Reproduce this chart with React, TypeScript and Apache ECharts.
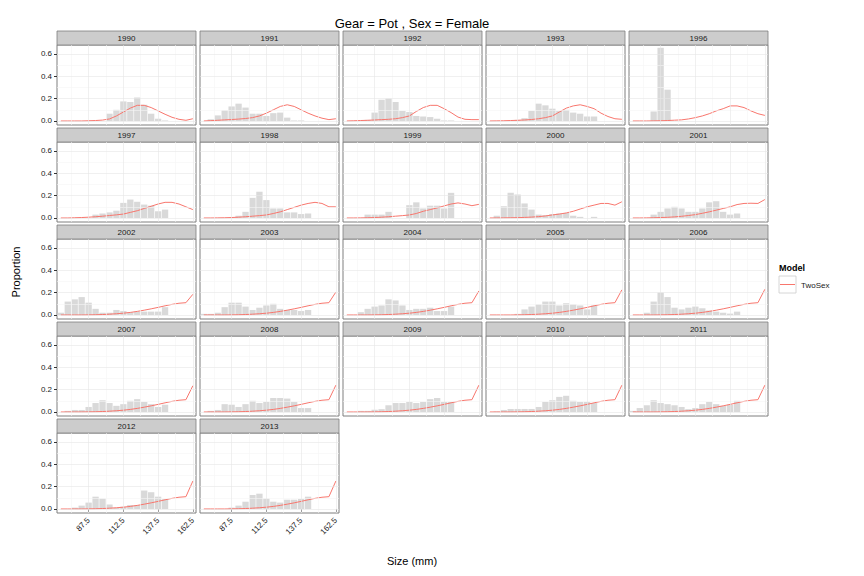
import React, { useEffect, useRef } from "react";
import * as echarts from "echarts";

const sizes = [67.5, 72.5, 77.5, 82.5, 87.5, 92.5, 97.5, 102.5, 107.5, 112.5, 117.5, 122.5, 127.5, 132.5, 137.5, 142.5, 147.5, 152.5, 157.5, 162.5];
const years = ["1990", "1991", "1992", "1993", "1996", "1997", "1998", "1999", "2000", "2001", "2002", "2003", "2004", "2005", "2006", "2007", "2008", "2009", "2010", "2011", "2012", "2013"];
const xTicks = [87.5, 112.5, 137.5, 162.5];
const xMinor = [75, 100, 125, 150];
const yTicks = [0, 0.2, 0.4, 0.6];
const yMinor = [0.1, 0.3, 0.5];

// observed proportions
const b1990 = [0, 0, 0, 0, 0, 0, 0, 0.065, 0.1, 0.175, 0.17, 0.21, 0.145, 0.065, 0.02, 0.005, 0, 0, 0, 0];
const b1991 = [0, 0.015, 0.05, 0.095, 0.13, 0.155, 0.12, 0.065, 0.065, 0.045, 0.07, 0.075, 0.03, 0.005, 0.005, 0, 0, 0, 0, 0];
const b1992 = [0, 0, 0, 0.01, 0.075, 0.19, 0.2, 0.17, 0.09, 0.08, 0.045, 0.04, 0.035, 0.02, 0.005, 0.005, 0, 0, 0, 0];
const b1993 = [0, 0, 0, 0, 0.01, 0.025, 0.09, 0.155, 0.14, 0.11, 0.09, 0.1, 0.075, 0.065, 0.04, 0.04, 0, 0, 0, 0];
const b1996 = [0, 0, 0, 0.085, 0.655, 0.28, 0, 0, 0, 0, 0, 0, 0, 0, 0, 0, 0, 0, 0, 0];
const b1997 = [0, 0, 0, 0, 0, 0.03, 0.04, 0.05, 0.065, 0.135, 0.165, 0.145, 0.12, 0.11, 0.06, 0.075, 0, 0, 0, 0];
const b1998 = [0, 0, 0, 0, 0, 0.02, 0.055, 0.18, 0.235, 0.16, 0.085, 0.085, 0.05, 0.05, 0.035, 0.04, 0, 0, 0, 0];
const b1999 = [0, 0, 0, 0.03, 0.03, 0.03, 0.055, 0, 0, 0.115, 0.14, 0.085, 0.11, 0.11, 0.085, 0.225, 0, 0, 0, 0];
const b2000 = [0, 0.02, 0.105, 0.225, 0.21, 0.13, 0.075, 0.03, 0.025, 0.035, 0.04, 0.045, 0.02, 0.01, 0, 0.01, 0, 0, 0, 0];
const b2001 = [0, 0, 0, 0.03, 0.055, 0.085, 0.1, 0.085, 0.055, 0.055, 0.085, 0.14, 0.15, 0.055, 0.03, 0.04, 0, 0, 0, 0];
const b2002 = [0.02, 0.12, 0.14, 0.16, 0.11, 0.055, 0.02, 0.02, 0.045, 0.035, 0.025, 0.03, 0.03, 0.03, 0.03, 0.07, 0, 0, 0, 0];
const b2003 = [0.01, 0.01, 0.02, 0.07, 0.11, 0.11, 0.075, 0.045, 0.065, 0.085, 0.1, 0.055, 0.045, 0.045, 0.035, 0.045, 0, 0, 0, 0];
const b2004 = [0, 0, 0.025, 0.055, 0.075, 0.085, 0.14, 0.13, 0.085, 0.045, 0.055, 0.055, 0.065, 0.035, 0.035, 0.075, 0, 0, 0, 0];
const b2005 = [0, 0, 0, 0, 0.01, 0.05, 0.075, 0.095, 0.12, 0.12, 0.085, 0.105, 0.095, 0.085, 0.05, 0.085, 0, 0, 0, 0];
const b2006 = [0, 0, 0.02, 0.12, 0.2, 0.16, 0.065, 0.05, 0.065, 0.075, 0.06, 0.04, 0.03, 0.02, 0.012, 0.03, 0, 0, 0, 0];
const b2007 = [0, 0.01, 0.018, 0.018, 0.045, 0.08, 0.105, 0.08, 0.055, 0.07, 0.1, 0.115, 0.09, 0.07, 0.045, 0.065, 0, 0, 0, 0];
const b2008 = [0, 0.01, 0.018, 0.07, 0.065, 0.045, 0.07, 0.1, 0.08, 0.09, 0.125, 0.125, 0.12, 0.09, 0.035, 0.035, 0, 0, 0, 0];
const b2009 = [0, 0, 0.01, 0.01, 0.02, 0.025, 0.06, 0.08, 0.08, 0.09, 0.08, 0.09, 0.115, 0.125, 0.09, 0.09, 0, 0, 0, 0];
const b2010 = [0, 0.005, 0.018, 0.027, 0.027, 0.027, 0.027, 0.045, 0.09, 0.105, 0.135, 0.145, 0.1, 0.09, 0.09, 0.08, 0, 0, 0, 0];
const b2011 = [0.01, 0.035, 0.06, 0.105, 0.08, 0.07, 0.06, 0.045, 0.025, 0.035, 0.07, 0.09, 0.07, 0.055, 0.065, 0.1, 0, 0, 0, 0];
const b2012 = [0, 0, 0.012, 0.03, 0.057, 0.11, 0.093, 0.04, 0.01, 0.02, 0.035, 0.035, 0.165, 0.15, 0.11, 0.088, 0, 0, 0, 0];
const b2013 = [0, 0, 0, 0, 0.012, 0.03, 0.065, 0.125, 0.137, 0.093, 0.065, 0.057, 0.083, 0.083, 0.09, 0.11, 0, 0, 0, 0];

// model (TwoSex) expected proportions
const m1990 = [0, 0, 0, 0, 0.002, 0.004, 0.008, 0.018, 0.045, 0.08, 0.115, 0.14, 0.14, 0.12, 0.09, 0.06, 0.033, 0.015, 0.006, 0.02];
const m1991 = [0, 0.003, 0.006, 0.01, 0.013, 0.017, 0.022, 0.03, 0.045, 0.07, 0.1, 0.13, 0.145, 0.13, 0.1, 0.07, 0.045, 0.025, 0.012, 0.02];
const m1992 = [0, 0.002, 0.004, 0.006, 0.009, 0.012, 0.015, 0.02, 0.03, 0.045, 0.085, 0.12, 0.14, 0.14, 0.11, 0.075, 0.035, 0.015, 0.012, 0.012];
const m1993 = [0, 0.001, 0.002, 0.004, 0.006, 0.009, 0.013, 0.02, 0.03, 0.045, 0.08, 0.115, 0.135, 0.145, 0.13, 0.11, 0.07, 0.04, 0.02, 0.015];
const m1996 = [0, 0, 0, 0.001, 0.002, 0.004, 0.007, 0.01, 0.018, 0.03, 0.045, 0.065, 0.09, 0.11, 0.135, 0.135, 0.12, 0.09, 0.065, 0.05];
const m1997 = [0, 0, 0.002, 0.004, 0.007, 0.011, 0.016, 0.022, 0.028, 0.035, 0.05, 0.065, 0.085, 0.105, 0.125, 0.14, 0.14, 0.125, 0.1, 0.075];
const m1998 = [0, 0, 0.001, 0.002, 0.004, 0.007, 0.011, 0.016, 0.021, 0.027, 0.04, 0.055, 0.075, 0.095, 0.115, 0.13, 0.14, 0.13, 0.1, 0.1];
const m1999 = [0, 0, 0.001, 0.002, 0.004, 0.007, 0.011, 0.016, 0.021, 0.027, 0.04, 0.06, 0.075, 0.09, 0.108, 0.125, 0.135, 0.125, 0.11, 0.122];
const m2000 = [0, 0, 0.001, 0.002, 0.003, 0.005, 0.008, 0.012, 0.018, 0.027, 0.035, 0.045, 0.06, 0.08, 0.1, 0.115, 0.13, 0.13, 0.115, 0.145];
const m2001 = [0, 0, 0.001, 0.002, 0.004, 0.006, 0.01, 0.015, 0.022, 0.03, 0.042, 0.055, 0.07, 0.085, 0.1, 0.12, 0.13, 0.132, 0.13, 0.165];
const mLateBase = [0, 0, 0, 0, 0.001, 0.002, 0.004, 0.007, 0.011, 0.016, 0.023, 0.032, 0.043, 0.055, 0.068, 0.082, 0.095, 0.105, 0.11];
const lateEnds = [0.185, 0.205, 0.215, 0.225, 0.23, 0.235, 0.24, 0.24, 0.24, 0.24, 0.25, 0.25];

const barsByYear = [b1990, b1991, b1992, b1993, b1996, b1997, b1998, b1999, b2000, b2001, b2002, b2003, b2004, b2005, b2006, b2007, b2008, b2009, b2010, b2011, b2012, b2013];
const earlyModels = [m1990, m1991, m1992, m1993, m1996, m1997, m1998, m1999, m2000, m2001];
const modelByYear = [...earlyModels, ...lateEnds.map((e) => [...mLateBase, e])];

const FONT = "Liberation Sans, Arial, sans-serif";
const RED = "#F8766D";

export default function App() {
  const ref = useRef<HTMLDivElement>(null);
  useEffect(() => {
    const chart = echarts.init(ref.current!, null, { renderer: "svg" });
    const grids: any[] = [];
    const xAxes: any[] = [];
    const yAxes: any[] = [];
    const series: any[] = [];
    const graphics: any[] = [];
    years.forEach((yr, i) => {
      const c = i % 5;
      const r = Math.floor(i / 5);
      const left = 57 + c * 143;
      const top = 45 + r * 97;
      grids.push({ left, top, width: 139, height: 80, show: true, backgroundColor: "#fff", borderColor: "#7f7f7f", borderWidth: 1 });
      const bottomRow = r === 4;
      xAxes.push({
        type: "value", gridIndex: i, min: 64.75, max: 164.75,
        axisLine: { show: false }, splitLine: { show: false },
        axisTick: { show: bottomRow, customValues: xTicks, length: 3, lineStyle: { color: "#333" } },
        axisLabel: { show: bottomRow, customValues: xTicks, rotate: 45, fontSize: 8, color: "#1a1a1a", fontFamily: FONT, margin: 6, formatter: (v: number) => String(v) },
      });
      yAxes.push({
        type: "value", gridIndex: i, min: -0.036, max: 0.68,
        axisLine: { show: false }, splitLine: { show: false },
        axisTick: { show: c === 0, customValues: yTicks, length: 3, lineStyle: { color: "#333" } },
        axisLabel: { show: c === 0, customValues: yTicks, fontSize: 8, color: "#1a1a1a", fontFamily: FONT, margin: 5, formatter: (v: number) => v.toFixed(1) },
      });
      const ml = (color: string) => ({ color, width: 0.6, type: "solid" });
      series.push({
        type: "line", xAxisIndex: i, yAxisIndex: i, z: 1, silent: true,
        data: [[64.75, -1]], showSymbol: false, lineStyle: { opacity: 0 },
        markLine: {
          silent: true, symbol: "none", label: { show: false }, animation: false,
          data: [
            ...xMinor.map((v) => ({ xAxis: v, lineStyle: ml("#f5f5f5") })),
            ...yMinor.map((v) => ({ yAxis: v, lineStyle: ml("#f5f5f5") })),
            ...xTicks.map((v) => ({ xAxis: v, lineStyle: ml("#e5e5e5") })),
            ...yTicks.map((v) => ({ yAxis: v, lineStyle: ml("#e5e5e5") })),
          ],
        },
      });
      series.push({
        type: "bar", xAxisIndex: i, yAxisIndex: i, z: 2, barWidth: 6.3,
        itemStyle: { color: "#d9d9d9" },
        data: sizes.map((s, k) => [s, barsByYear[i][k]]).filter((d) => d[1] > 0),
      });
      series.push({
        type: "line", xAxisIndex: i, yAxisIndex: i, z: 3, showSymbol: false,
        lineStyle: { color: RED, width: 1 },
        data: sizes.map((s, k) => [s, modelByYear[i][k]]),
      });
      graphics.push({ type: "rect", shape: { x: left, y: top - 14, width: 139, height: 14 }, style: { fill: "#cccccc", stroke: "#7f7f7f", lineWidth: 0.8 } });
      graphics.push({ type: "text", x: left + 69.5, y: top - 7, style: { text: yr, fontSize: 8, fill: "#1a1a1a", fontFamily: FONT, align: "center", verticalAlign: "middle" } });
    });
    graphics.push({ type: "text", x: 412, y: 23, style: { text: "Gear = Pot , Sex = Female", fontSize: 13, fill: "#000", fontFamily: FONT, align: "center", verticalAlign: "middle" } });
    graphics.push({ type: "text", x: 412, y: 561, style: { text: "Size (mm)", fontSize: 11, fill: "#000", fontFamily: FONT, align: "center", verticalAlign: "middle" } });
    graphics.push({ type: "text", x: 16, y: 272, rotation: Math.PI / 2, style: { text: "Proportion", fontSize: 11, fill: "#000", fontFamily: FONT, align: "center", verticalAlign: "middle" } });
    graphics.push({ type: "text", x: 779, y: 268, style: { text: "Model", fontSize: 9, fontWeight: "bold", fill: "#000", fontFamily: FONT, verticalAlign: "middle" } });
    graphics.push({ type: "rect", shape: { x: 779, y: 276, width: 17, height: 17 }, style: { fill: "#fff", stroke: "#cccccc", lineWidth: 0.8 } });
    graphics.push({ type: "line", shape: { x1: 780, y1: 284.5, x2: 795, y2: 284.5 }, style: { stroke: RED, lineWidth: 1 } });
    graphics.push({ type: "text", x: 801, y: 285, style: { text: "TwoSex", fontSize: 8, fill: "#1a1a1a", fontFamily: FONT, verticalAlign: "middle" } });
    chart.setOption({ animation: false, grid: grids, xAxis: xAxes, yAxis: yAxes, series, graphic: graphics });
    return () => chart.dispose();
  }, []);
  return <div ref={ref} style={{ position: "fixed", left: 0, top: 0, width: 864, height: 576, background: "#fff" }} />;
}
